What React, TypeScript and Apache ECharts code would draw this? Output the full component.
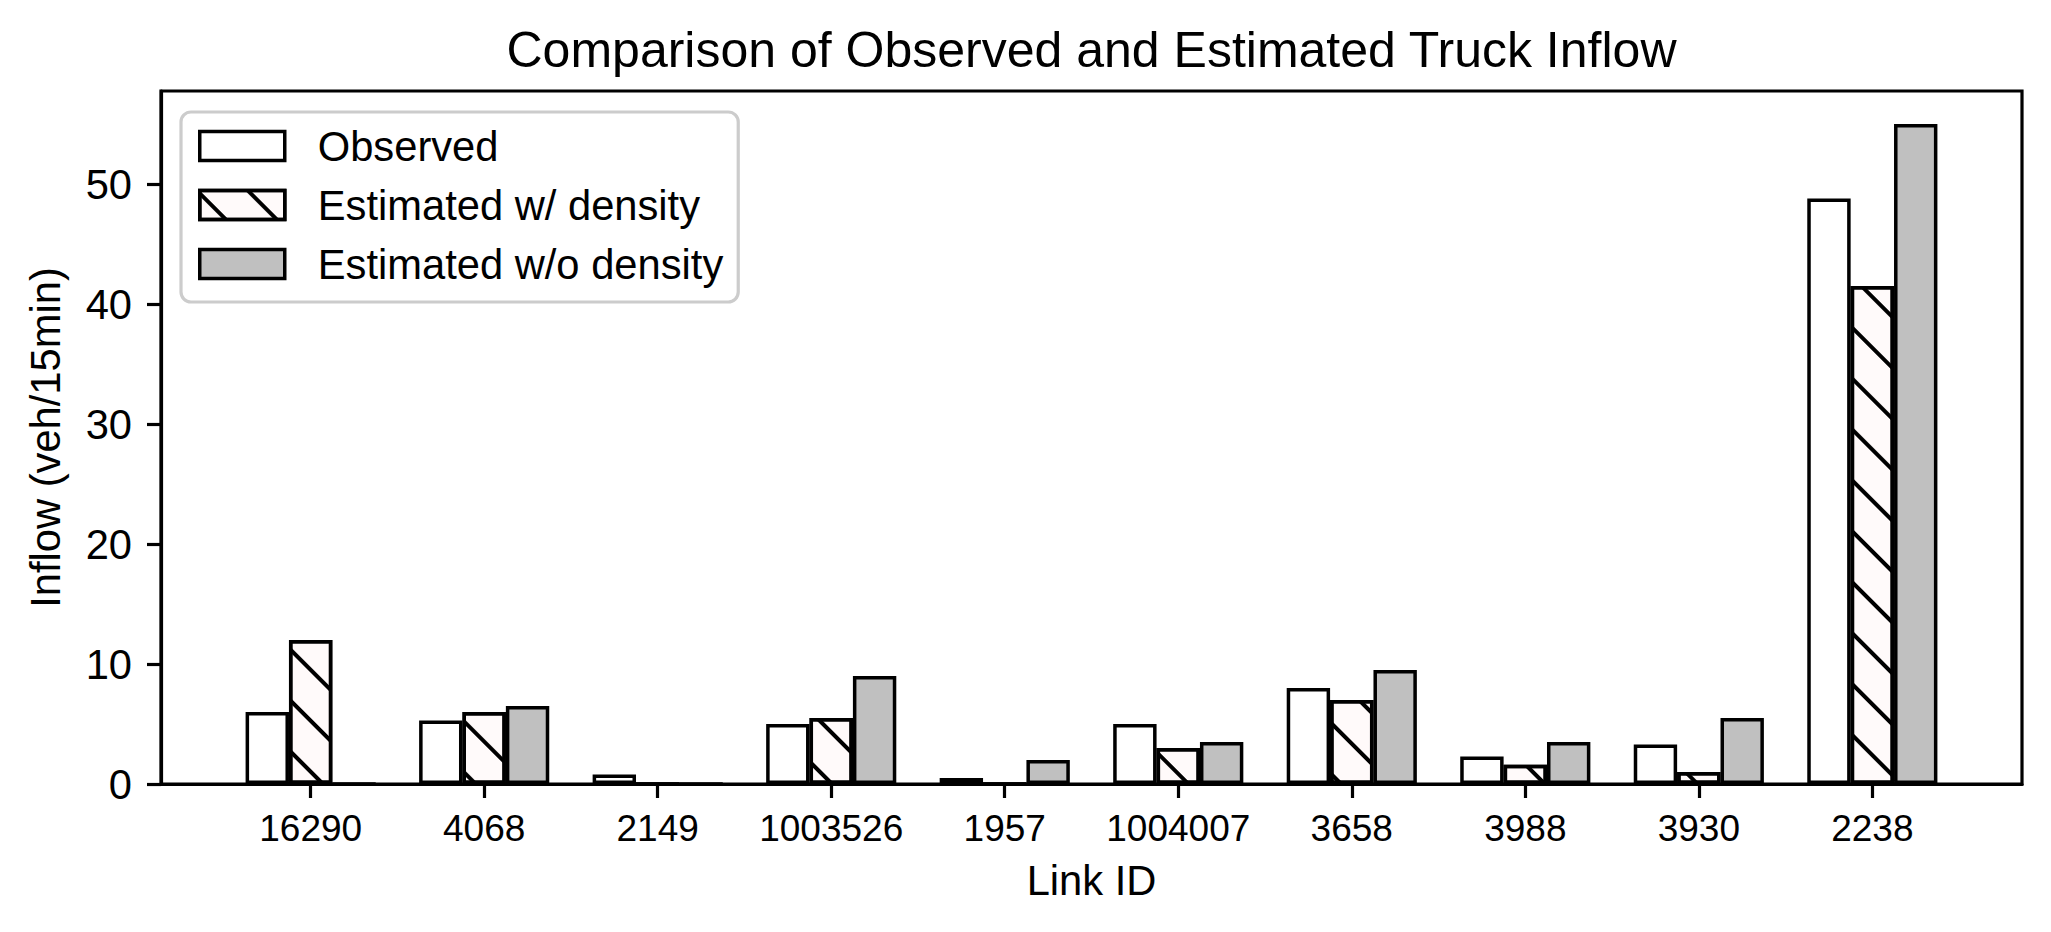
import React, { useEffect, useRef } from "react";
import * as echarts from "echarts";

const linkIds = ["16290", "4068", "2149", "1003526", "1957", "1004007", "3658", "3988", "3930", "2238"];
const observed = [6, 5.3, 0.8, 5, 0.5, 5, 8, 2.3, 3.3, 48.8];
const estWithDensity = [12, 6, 0, 5.5, 0, 3, 7, 1.6, 1, 41.5];
const estWithoutDensity = [0, 6.5, 0, 9, 2, 3.5, 9.5, 3.5, 5.5, 55];
const yTicks = [0, 10, 20, 30, 40, 50];
const xTicks = linkIds.map((_, i) => i);
const seriesNames = ["Observed", "Estimated w/ density", "Estimated w/o density"];

const FONT = 'Arial, "Liberation Sans", Helvetica, sans-serif';
const BAR_W = 0.25;
const X_MIN = -0.8625;
const X_MAX = 9.8625;
const GRID_LEFT = 161;
const GRID_RIGHT = 29;
const CHART_W = 2051;
const PX_PER_UNIT = (CHART_W - GRID_LEFT - GRID_RIGHT) / (X_MAX - X_MIN);

const hatch = {
  symbol: "rect",
  symbolSize: 1,
  color: "#000000",
  backgroundColor: "rgba(0,0,0,0)",
  dashArrayX: [1, 0],
  dashArrayY: [3.5, 31.5],
  rotation: Math.PI / 4,
};

function makeSeries(name: string, values: number[], offset: number, color: string, decal?: any) {
  return {
    name,
    type: "bar",
    barWidth: BAR_W * PX_PER_UNIT,
    barGap: "-100%",
    data: values.map((v, i) => [i + offset, v]),
    itemStyle: {
      color,
      borderColor: "#000000",
      borderWidth: 3.5,
      ...(decal ? { decal } : {}),
    },
    emphasis: { disabled: true },
    silent: true,
  };
}

export default function App() {
  const ref = useRef<HTMLDivElement>(null);
  useEffect(() => {
    if (!ref.current) return;
    const chart = echarts.init(ref.current, null, { renderer: "svg" });
    const option: any = {
      animation: false,
      backgroundColor: "#ffffff",
      title: {
        text: "Comparison of Observed and Estimated Truck Inflow",
        left: 1086.5,
        top: 19,
        textAlign: "center",
        textStyle: { fontFamily: FONT, fontSize: 50, fontWeight: "normal", color: "#000", lineHeight: 52 },
      },
      legend: {
        orient: "vertical",
        left: 181,
        top: 112,
        data: seriesNames,
        icon: "rect",
        itemWidth: 85,
        itemHeight: 29,
        itemGap: 17,
        padding: [13, 15, 17, 17],
        backgroundColor: "rgba(255,255,255,0.8)",
        borderColor: "#cccccc",
        borderWidth: 3.2,
        borderRadius: 10,
        itemStyle: { borderColor: "#000", borderWidth: 3.5 },
        textStyle: { fontFamily: FONT, fontSize: 41.7, color: "#000", lineHeight: 29, padding: [0, 0, 0, 28] },
        selectedMode: false,
      },
      grid: {
        left: GRID_LEFT,
        right: GRID_RIGHT,
        top: 91,
        bottom: 148,
        show: true,
        borderColor: "#000",
        borderWidth: 3.2,
        backgroundColor: "rgba(0,0,0,0)",
      },
      xAxis: {
        type: "value",
        min: X_MIN,
        max: X_MAX,
        name: "Link ID",
        nameLocation: "middle",
        nameGap: 75,
        nameTextStyle: { fontFamily: FONT, fontSize: 41.7, color: "#000" },
        axisLine: { show: true, onZero: false, lineStyle: { color: "#000", width: 3.2 } },
        axisTick: { show: true, length: 14, inside: false, customValues: xTicks, lineStyle: { color: "#000", width: 3.2 } },
        axisLabel: {
          show: true,
          customValues: xTicks,
          margin: 26,
          fontFamily: FONT,
          fontSize: 37,
          color: "#000",
          formatter: (v: number) => linkIds[Math.round(v)] ?? "",
        },
        splitLine: { show: false },
      },
      yAxis: {
        type: "value",
        min: 0,
        max: 57.75,
        name: "Inflow (veh/15min)",
        nameLocation: "middle",
        nameGap: 95,
        nameTextStyle: { fontFamily: FONT, fontSize: 41.7, color: "#000" },
        axisLine: { show: true, onZero: false, lineStyle: { color: "#000", width: 3.2 } },
        axisTick: { show: true, length: 14, inside: false, customValues: yTicks, lineStyle: { color: "#000", width: 3.2 } },
        axisLabel: { show: true, customValues: yTicks, margin: 29, fontFamily: FONT, fontSize: 41.7, color: "#000" },
        splitLine: { show: false },
      },
      series: [
        makeSeries(seriesNames[0], observed, -BAR_W, "#ffffff"),
        makeSeries(seriesNames[1], estWithDensity, 0, "#fffafa", hatch),
        makeSeries(seriesNames[2], estWithoutDensity, BAR_W, "#c0c0c0"),
      ],
    };
    chart.setOption(option);
    return () => chart.dispose();
  }, []);
  return (
    <div
      ref={ref}
      style={{ position: "absolute", left: 0, top: 0, width: CHART_W, height: 932, background: "#fff" }}
    />
  );
}
